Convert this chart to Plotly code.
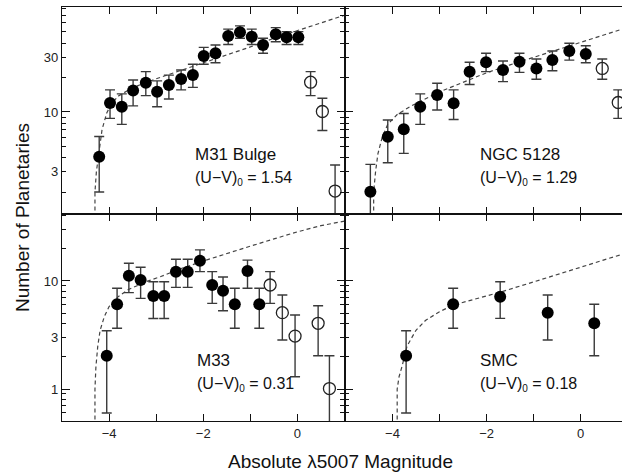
import plotly.graph_objects as go

# ---------------- M31 bulge ----------------
m31_mag = [-4.21, -3.98, -3.73, -3.49, -3.22, -2.98, -2.73, -2.47, -2.22,
           -1.99, -1.74, -1.47, -1.22, -0.97, -0.73, -0.46, -0.23, 0.02]
m31_n = [4.07, 12.0, 11.1, 15.4, 18.0, 15.0, 17.2, 19.4, 21.0,
         30.8, 32.6, 46.1, 49.7, 45.5, 38.4, 47.7, 44.9, 44.9]
m31_hi = [6.1, 15.6, 14.4, 19.0, 22.5, 18.7, 21.0, 23.3, 26.1,
          36.7, 38.5, 52.9, 56.5, 52.9, 44.0, 54.6, 50.3, 50.3]
m31_lo = [2.0, 8.8, 7.8, 11.3, 13.9, 11.1, 13.0, 15.6, 16.4,
          26.1, 26.9, 38.8, 44.0, 38.8, 32.6, 41.1, 38.9, 38.9]
m31_open_mag = [0.28, 0.53, 0.80]
m31_open_n = [18.2, 10.1, 2.04]
m31_open_hi = [22.5, 13.2, 3.44]
m31_open_lo = [13.9, 6.9, 1.0]
m31_fit_mag = [-4.30, -4.30, -4.27, -4.22, -4.15, -4.05, -3.95, -3.8, -3.5,
               -3.0, -2.5, -2.0, -1.5, -1.0, -0.5, 0.0, 0.5, 1.0]
m31_fit_n = [1.2, 2.0, 3.0, 4.5, 7.0, 9.8, 11.8, 13.8, 16.3,
             19.5, 22.8, 27.0, 31.5, 37.0, 44.0, 51.5, 60.0, 70.0]

# ---------------- NGC 5128 ----------------
ngc_mag = [-4.47, -4.10, -3.76, -3.41, -3.05, -2.70, -2.36, -2.01, -1.65,
           -1.30, -0.94, -0.60, -0.24, 0.11]
ngc_n = [2.01, 6.08, 7.06, 11.1, 14.1, 11.9, 22.5, 27.2, 23.3,
         27.5, 24.0, 28.5, 34.1, 32.1]
ngc_hi = [3.49, 8.5, 9.7, 14.4, 17.8, 15.6, 27.2, 32.6, 27.9,
          32.6, 29.0, 34.1, 39.8, 37.9]
ngc_lo = [1.0, 3.6, 4.35, 7.8, 10.4, 8.6, 17.4, 22.5, 18.4,
          22.2, 19.3, 22.9, 28.4, 26.9]
ngc_open_mag = [0.46, 0.80]
ngc_open_n = [24.0, 12.1]
ngc_open_hi = [29.0, 15.6]
ngc_open_lo = [19.3, 8.8]
ngc_fit_mag = [-4.40, -4.40, -4.36, -4.31, -4.22, -4.10, -3.9, -3.6, -3.0,
               -2.5, -2.0, -1.5, -1.0, -0.5, 0.0, 0.5, 0.95]
ngc_fit_n = [1.2, 2.0, 3.0, 4.3, 6.0, 7.8, 9.5, 11.3, 15.0,
             18.3, 22.0, 25.8, 30.0, 35.0, 40.5, 47.0, 54.0]

# ---------------- M33 ----------------
m33_mag = [-4.05, -3.83, -3.58, -3.33, -3.06, -2.83, -2.58, -2.33, -2.07,
           -1.81, -1.58, -1.33, -1.06, -0.81]
m33_n = [2.03, 6.08, 11.2, 10.2, 7.26, 7.26, 12.2, 12.2, 15.4,
         9.18, 8.13, 6.08, 12.4, 6.08]
m33_hi = [3.46, 8.56, 14.6, 13.4, 9.85, 9.85, 15.9, 15.9, 19.4,
          12.2, 10.9, 8.56, 15.6, 8.56]
m33_lo = [0.60, 3.65, 7.8, 6.9, 4.5, 4.5, 8.73, 8.73, 12.2,
          6.2, 5.3, 3.65, 8.56, 3.65]
m33_open_mag = [-0.58, -0.32, -0.05, 0.44, 0.68]
m33_open_n = [9.18, 5.09, 3.09, 4.06, 1.01]
m33_open_hi = [12.2, 7.42, 4.84, 5.9, 2.03]
m33_open_lo = [6.2, 2.84, 1.30, 2.03, 0.3]
m33_fit_mag = [-4.30, -4.30, -4.28, -4.24, -4.19, -4.10, -4.0, -3.8, -3.6,
               -3.2, -2.9, -2.5, -2.0, -1.5, -1.0, -0.5, 0.0, 0.5, 1.0]
m33_fit_n = [0.45, 1.0, 1.6, 2.5, 3.5, 4.7, 5.8, 7.2, 8.3,
             9.9, 11.0, 12.9, 15.3, 17.8, 21.0, 24.5, 28.5, 32.5, 35.8]

# ---------------- SMC ----------------
smc_mag = [-3.71, -2.71, -1.71, -0.70, 0.29]
smc_n = [2.03, 6.08, 7.16, 5.09, 4.06]
smc_hi = [3.46, 8.56, 9.85, 7.42, 6.1]
smc_lo = [0.60, 3.65, 4.51, 2.84, 2.03]
smc_fit_mag = [-3.90, -3.90, -3.86, -3.80, -3.69, -3.5, -3.3, -3.0, -2.7,
               -2.2, -1.7, -1.0, -0.5, 0.0, 0.5, 0.95]
smc_fit_n = [0.45, 1.0, 1.3, 1.6, 2.5, 3.5, 4.3, 5.2, 6.0,
             6.9, 7.9, 9.8, 11.4, 13.4, 15.7, 18.0]

panel_names = ["M31 Bulge", "NGC 5128", "M33", "SMC"]
panel_colors = ["1.54", "1.29", "0.31", "0.18"]

# magnitude ticks: labelled and unlabelled
x_major = [-4, -2, 0]
x_major_text = ["\u22124", "\u22122", "0"]
x_minor = [-5, -3, -1, 1]

# count ticks
top_major = [3, 10, 30]
top_minor = [2, 4, 5, 6, 7, 8, 9, 20, 40, 50, 60, 70, 80]
bot_major = [1, 3, 10]
bot_minor = [0.6, 0.7, 0.8, 0.9, 2, 4, 5, 6, 7, 8, 9, 20, 30, 40]

W, H = 622, 473
INK = "#111111"
BAR = "#3a3a3a"
FONT = "Liberation Sans, Arial, Helvetica, sans-serif"

fig = go.Figure()


def errs(n, hi, lo):
    return ([h - v for h, v in zip(hi, n)], [v - l for v, l in zip(n, lo)])


def add_panel(ax, mag, n, hi, lo, fit_mag, fit_n, omag=None, on=None, ohi=None, olo=None):
    xa, ya = "x%d" % ax, "y%d" % ax
    fig.add_trace(go.Scatter(x=fit_mag, y=fit_n, mode="lines", xaxis=xa, yaxis=ya,
                             line=dict(color="#444444", width=1.2, dash="4px,3px"),
                             hoverinfo="skip", showlegend=False))
    up, dn = errs(n, hi, lo)
    fig.add_trace(go.Scatter(x=mag, y=n, mode="markers", xaxis=xa, yaxis=ya,
                             marker=dict(symbol="circle", size=12, color="black"),
                             error_y=dict(type="data", symmetric=False, array=up, arrayminus=dn,
                                          color=BAR, thickness=1.4, width=5),
                             showlegend=False))
    if omag:
        up, dn = errs(on, ohi, olo)
        fig.add_trace(go.Scatter(x=omag, y=on, mode="markers", xaxis=xa, yaxis=ya,
                                 marker=dict(symbol="circle-open", size=12, color="#222222",
                                             line=dict(width=1.3)),
                                 error_y=dict(type="data", symmetric=False, array=up, arrayminus=dn,
                                              color=BAR, thickness=1.4, width=5),
                                 showlegend=False))


add_panel(1, m31_mag, m31_n, m31_hi, m31_lo, m31_fit_mag, m31_fit_n,
          m31_open_mag, m31_open_n, m31_open_hi, m31_open_lo)
add_panel(2, ngc_mag, ngc_n, ngc_hi, ngc_lo, ngc_fit_mag, ngc_fit_n,
          ngc_open_mag, ngc_open_n, ngc_open_hi, ngc_open_lo)
add_panel(3, m33_mag, m33_n, m33_hi, m33_lo, m33_fit_mag, m33_fit_n,
          m33_open_mag, m33_open_n, m33_open_hi, m33_open_lo)
add_panel(4, smc_mag, smc_n, smc_hi, smc_lo, smc_fit_mag, smc_fit_n)

# empty traces so the decade-tick overlay axes are drawn
for k in range(5, 9):
    fig.add_trace(go.Scatter(x=[], y=[], xaxis="x%d" % (k - 4), yaxis="y%d" % k,
                             showlegend=False, hoverinfo="skip"))

left_dom = [62 / W, 344.5 / W]
right_dom = [344.5 / W, 1.0]
top_dom = [1 - 214 / H, 1 - 7 / H]
bot_dom = [1 - 421 / H, 1 - 214 / H]

top_range = [0.109, 1.917]
bot_range = [-0.296, 1.620]
left_xr = [-5.0, 1.0]
right_xr = [-5.02, 0.88]

TICKFONT = dict(family=FONT, size=13, color="#222222")


def xaxis(dom, rng, anchor, labels):
    ax = dict(domain=dom, range=rng, anchor=anchor, tickmode="array", tickvals=x_major,
              ticks="inside", ticklen=7, tickwidth=1.2, tickcolor=INK,
              minor=dict(tickmode="array", tickvals=x_minor, ticks="inside", ticklen=7,
                         tickwidth=1.2, tickcolor=INK, showgrid=False),
              showline=True, linecolor=INK, linewidth=1.4, mirror="allticks",
              showgrid=False, zeroline=False, tickfont=TICKFONT)
    if labels:
        ax.update(ticktext=x_major_text, showticklabels=True)
    else:
        ax.update(showticklabels=False)
    return ax


def yaxis(dom, rng, anchor, major, minor, labels, mirror):
    ax = dict(domain=dom, range=rng, anchor=anchor, type="log", tickmode="array",
              tickvals=major, ticks="inside", ticklen=4, tickwidth=1.1, tickcolor=INK,
              minor=dict(tickmode="array", tickvals=minor, ticks="inside", ticklen=4,
                         tickwidth=1.1, tickcolor=INK, showgrid=False),
              showline=True, linecolor=INK, linewidth=1.4, mirror=mirror,
              showgrid=False, zeroline=False, tickfont=TICKFONT)
    if labels:
        ax.update(ticktext=["%g" % v for v in major], showticklabels=True)
    else:
        ax.update(showticklabels=False)
    return ax


def decade_axis(over, rng, anchor, vals, mirror):
    return dict(overlaying=over, range=rng, anchor=anchor, type="log", tickmode="array",
                tickvals=vals, showticklabels=False,
                ticks="inside", ticklen=8, tickwidth=1.1, tickcolor=INK,
                showline=False, mirror=mirror, showgrid=False, zeroline=False)


fig.update_layout(
    width=W, height=H, margin=dict(l=0, r=0, t=0, b=0),
    paper_bgcolor="white", plot_bgcolor="white", showlegend=False,
    xaxis=xaxis(left_dom, left_xr, "y", False),
    yaxis=yaxis(top_dom, top_range, "x", top_major, top_minor, True, "allticks"),
    xaxis2=xaxis(right_dom, right_xr, "y2", False),
    yaxis2=yaxis(top_dom, top_range, "x2", top_major, top_minor, False, False),
    xaxis3=xaxis(left_dom, left_xr, "y3", True),
    yaxis3=yaxis(bot_dom, bot_range, "x3", bot_major, bot_minor, True, "allticks"),
    xaxis4=xaxis(right_dom, right_xr, "y4", True),
    yaxis4=yaxis(bot_dom, bot_range, "x4", bot_major, bot_minor, False, False),
    yaxis5=decade_axis("y", top_range, "x", [10], "ticks"),
    yaxis6=decade_axis("y2", top_range, "x2", [10], False),
    yaxis7=decade_axis("y3", bot_range, "x3", [1, 10], "ticks"),
    yaxis8=decade_axis("y4", bot_range, "x4", [1, 10], False),
)

# panel labels
label_pos = [(193, 155, 178), (478, 155, 178), (195, 360, 384), (478, 360, 384)]
for name, col, (lx, y1, y2) in zip(panel_names, panel_colors, label_pos):
    fig.add_annotation(x=lx / W, y=1 - y1 / H, xref="paper", yref="paper", text=name,
                       showarrow=False, xanchor="left", yanchor="middle",
                       font=dict(family=FONT, size=17, color="#111111"))
    fig.add_annotation(x=lx / W, y=1 - y2 / H, xref="paper", yref="paper",
                       text="(U\u2212V)<sub><span style='font-size:10px'>0</span></sub> = " + col,
                       showarrow=False, xanchor="left", yanchor="middle",
                       font=dict(family=FONT, size=16, color="#111111"))

# axis titles
fig.add_annotation(x=22 / W, y=1 - 218 / H, xref="paper", yref="paper",
                   text="Number of Planetaries", textangle=-90, showarrow=False,
                   xanchor="center", yanchor="middle",
                   font=dict(family=FONT, size=19, color="#111111"))
fig.add_annotation(x=340 / W, y=1 - 461 / H, xref="paper", yref="paper",
                   text="Absolute \u03bb5007 Magnitude", showarrow=False,
                   xanchor="center", yanchor="middle",
                   font=dict(family=FONT, size=19, color="#111111"))

fig.write_html("out.html")
